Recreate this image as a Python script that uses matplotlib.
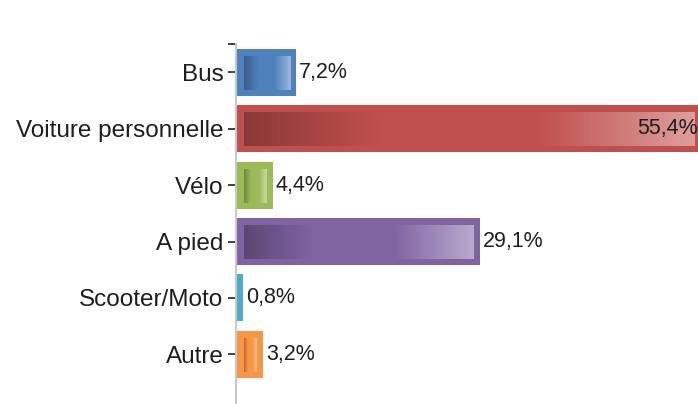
import numpy as np
import matplotlib.pyplot as plt
from matplotlib.colors import to_rgb

# data
categories = ["Bus", "Voiture personnelle", "Vélo", "A pied", "Scooter/Moto", "Autre"]
values = [7.2, 55.4, 4.4, 29.1, 0.8, 3.2]
labels = ["7,2%", "55,4%", "4,4%", "29,1%", "0,8%", "3,2%"]
colors = ["#4f81bd", "#c0504d", "#9bbb59", "#8064a2", "#4bacc6", "#f79646"]

plt.rcParams["font.family"] = ["Liberation Sans", "DejaVu Sans"]

fig = plt.figure(figsize=(6.98, 4.04), dpi=100)
ax = fig.add_axes([236 / 698, -35 / 404, 462 / 698, 395 / 404])

px_x = 8.38    # pixels per unit on x
px_y = 56.4    # pixels per category
xmax = 462 / px_x
bar_h = 47 / px_y

y = np.arange(len(categories))
ax.barh(y, values, height=bar_h, color=colors, edgecolor="none", zorder=2)


def gradient_for(c):
    base = np.array(to_rgb(c))
    dark = base * 0.72
    light = base + (1 - base) * 0.45
    t = np.linspace(0, 1, 256)
    stops = [0.0, 0.3, 0.65, 1.0]
    img = np.zeros((1, 256, 3))
    for k in range(3):
        img[0, :, k] = np.interp(t, stops, [dark[k], base[k], base[k], light[k]])
    return img


for i, (v, c) in enumerate(zip(values, colors)):
    x0 = 8 / px_x
    x1 = v - 6 / px_x
    if x1 > x0:
        y0 = i - bar_h / 2 + 8 / px_y
        y1 = i + bar_h / 2 - 6 / px_y
        ax.imshow(gradient_for(c), extent=[x0, x1, y1, y0], aspect="auto",
                  interpolation="bilinear", zorder=3)
    if v < xmax - 8:
        ax.text(v + 3 / px_x, i, labels[i], va="center", ha="left",
                fontsize=15.5, color="#1e1e1e", zorder=4)
    else:
        ax.text(xmax, i, labels[i], va="center", ha="right",
                fontsize=15.5, color="#1e1e1e", zorder=4)

ax.set_xlim(0, xmax)
ax.set_ylim(len(categories) + 0.5, -0.5)

ax.set_yticks([-0.5] + list(y))
ax.set_yticklabels([""] + categories, fontsize=17.5, color="#1e1e1e")
ax.tick_params(axis="y", length=6, width=1.2, color="#222222", pad=3)
ax.set_xticks([])

for s in ["top", "right", "bottom"]:
    ax.spines[s].set_visible(False)
ax.spines["left"].set_color("#c8c8c8")
ax.spines["left"].set_linewidth(1.5)

fig.savefig("out.png", dpi=100)
